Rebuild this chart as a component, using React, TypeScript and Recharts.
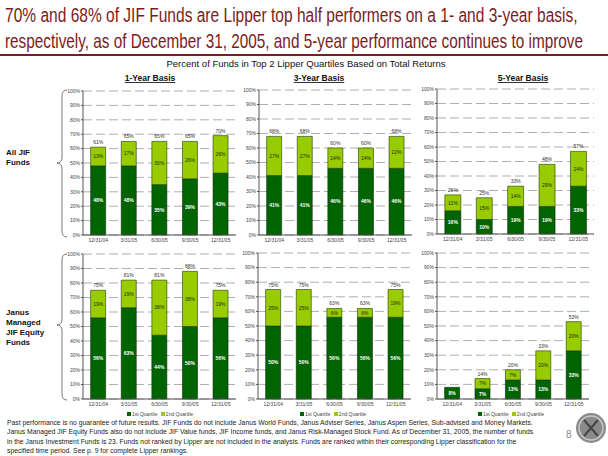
import { BarChart, Bar, XAxis, YAxis, CartesianGrid, LabelList } from 'recharts'

const quarters = ['12/31/04', '3/31/05', '6/30/05', '9/30/05', '12/31/05']
const yTicks = [0, 10, 20, 30, 40, 50, 60, 70, 80, 90, 100]

// All JIF Funds
const allOneFirst = [48, 48, 35, 39, 43]
const allOneSecond = [13, 17, 30, 26, 26]
const allOneTotal = [61, 65, 65, 65, 70]

const allThreeFirst = [41, 41, 46, 46, 46]
const allThreeSecond = [27, 27, 14, 14, 22]
const allThreeTotal = [68, 68, 60, 60, 68]

const allFiveFirst = [16, 10, 19, 19, 33]
const allFiveSecond = [11, 15, 14, 29, 24]
const allFiveTotal = [26, 25, 33, 48, 57]

// Janus Managed JIF Equity Funds
const janusOneFirst = [56, 63, 44, 50, 56]
const janusOneSecond = [19, 19, 38, 38, 19]
const janusOneTotal = [75, 81, 81, 88, 75]

const janusThreeFirst = [50, 50, 56, 56, 56]
const janusThreeSecond = [25, 25, 6, 6, 19]
const janusThreeTotal = [75, 75, 63, 63, 75]

const janusFiveFirst = [8, 7, 13, 13, 33]
const janusFiveSecond = [0, 7, 7, 20, 20]
const janusFiveTotal = [8, 14, 20, 33, 53]

const footerLines = [
  'Past performance is no guarantee of future results.  JIF Funds do not include Janus World Funds, Janus Adviser Series, Janus Aspen Series, Sub-advised and Money Markets.',
  'Janus Managed JIF Equity Funds also do not include JIF Value funds, JIF Income funds, and Janus Risk-Managed Stock Fund.  As of December 31, 2005, the number of funds',
  'in the Janus Investment Funds is 23. Funds not ranked by Lipper are not included in the analysis. Funds are ranked within their corresponding Lipper classification for the',
  'specified time period.  See p. 9 for complete Lipper rankings.',
]

const DARK = '#006400'
const LIGHT = '#99cc00'
const TITLE_RED = '#7a1c22'
const FONT = "'Liberation Sans', Arial, sans-serif"

const rows = (first: number[], second: number[], total: number[]) =>
  quarters.map((quarter, i) => ({ quarter, first: first[i], second: second[i], total: total[i] }))

const pct = (v: any) => (v ? `${v}%` : '')

const YW = 24
const MT = 6
const XH = 12
const MR = 2

interface MiniChartProps {
  data: { quarter: string; first: number; second: number; total: number }[]
  x0: number
  x1: number
  y0: number
  y1: number
}

function MiniChart({ data, x0, x1, y0, y1 }: MiniChartProps) {
  const width = YW + (x1 - x0) + MR
  const height = MT + (y1 - y0) + XH
  return (
    <div style={{ position: 'absolute', left: x0 - YW, top: y0 - MT }}>
      <BarChart
        width={width}
        height={height}
        data={data}
        margin={{ top: MT, right: MR, left: 0, bottom: 0 }}
        barCategoryGap="25%"
      >
        <CartesianGrid vertical={false} stroke="#9a9a9a" strokeDasharray="9 4" strokeWidth={0.8} />
        <XAxis
          dataKey="quarter"
          height={XH}
          interval={0}
          tick={{ fontSize: 5, fill: '#444', fontFamily: FONT }}
          tickLine={false}
          tickSize={2}
          tickMargin={1}
          axisLine={{ stroke: '#555' }}
        />
        <YAxis
          width={YW}
          domain={[0, 100]}
          ticks={yTicks}
          interval={0}
          tickFormatter={(v) => `${v}%`}
          tick={{ fontSize: 5, fill: '#444', fontFamily: FONT }}
          tickSize={2}
          tickMargin={1}
          axisLine={{ stroke: '#555' }}
          tickLine={{ stroke: '#555' }}
        />
        <Bar dataKey="first" stackId="q" fill={DARK} stroke="#0b2a0b" strokeWidth={0.6} isAnimationActive={false}>
          <LabelList dataKey="first" position="center" formatter={pct} fill="#ffffff" fontSize={5} fontWeight={700} fontFamily={FONT} />
        </Bar>
        <Bar dataKey="second" stackId="q" fill={LIGHT} stroke="#1f3a00" strokeWidth={0.6} isAnimationActive={false}>
          <LabelList dataKey="second" position="center" formatter={pct} fill="#1d2b00" fontSize={5} fontFamily={FONT} />
          <LabelList dataKey="total" position="top" offset={3} formatter={pct} fill="#333" fontSize={5} fontFamily={FONT} />
        </Bar>
      </BarChart>
    </div>
  )
}

function QuartileLegend({ cx }: { cx: number }) {
  return (
    <div
      style={{
        position: 'absolute',
        left: cx - 40,
        top: 411,
        width: 80,
        textAlign: 'center',
        fontSize: 5,
        lineHeight: '6px',
        fontFamily: FONT,
        color: '#444',
        whiteSpace: 'nowrap',
      }}
    >
      <span style={{ display: 'inline-block', width: 4, height: 4, background: DARK, marginRight: 1 }} />
      1st Quartile{' '}
      <span style={{ display: 'inline-block', width: 4, height: 4, background: LIGHT, marginRight: 1, marginLeft: 2 }} />
      2nd Quartile
    </div>
  )
}

export default function App() {
  return (
    <div style={{ position: 'absolute', left: 0, top: 0, width: 608, height: 456, background: '#fff', overflow: 'hidden' }}>
      <svg width={608} height={456} style={{ position: 'absolute', left: 0, top: 0 }} fontFamily={FONT}>
        <text transform="translate(5 22) scale(0.74 1)" fontSize={21} fill={TITLE_RED}>
          70% and 68% of JIF Funds are Lipper top half performers on a 1- and 3-year basis,
        </text>
        <text transform="translate(5 48) scale(0.73 1)" fontSize={21} fill={TITLE_RED}>
          respectively, as of December 31, 2005, and 5-year performance continues to improve
        </text>
        <line x1={0} y1={55} x2={608} y2={55} stroke={TITLE_RED} strokeWidth={2} />

        <text x={306} y={67} fontSize={9.5} textAnchor="middle" fill="#111">
          Percent of Funds in Top 2 Lipper Quartiles Based on Total Returns
        </text>
        <text x={150} y={81} fontSize={8.5} fontWeight={700} textAnchor="middle" fill="#111" textDecoration="underline">
          1-Year Basis
        </text>
        <text x={319} y={81} fontSize={8.5} fontWeight={700} textAnchor="middle" fill="#111" textDecoration="underline">
          3-Year Basis
        </text>
        <text x={523} y={81} fontSize={8.5} fontWeight={700} textAnchor="middle" fill="#111" textDecoration="underline">
          5-Year Basis
        </text>

        <text x={6} y={155} fontSize={8} fontWeight={700} fill="#111">All JIF</text>
        <text x={6} y={165} fontSize={8} fontWeight={700} fill="#111">Funds</text>
        <text x={6} y={315} fontSize={8} fontWeight={700} fill="#111">Janus</text>
        <text x={6} y={325} fontSize={8} fontWeight={700} fill="#111">Managed</text>
        <text x={6} y={335} fontSize={8} fontWeight={700} fill="#111">JIF Equity</text>
        <text x={6} y={345} fontSize={8} fontWeight={700} fill="#111">Funds</text>

        <path
          d="M67 90 Q62 90 62 96 L62 157 Q62 163 57 163 Q62 163 62 169 L62 231 Q62 237 67 237"
          fill="none"
          stroke="#777"
          strokeWidth={1}
        />
        <path
          d="M67 254 Q62 254 62 260 L62 319 Q62 325 57 325 Q62 325 62 331 L62 394 Q62 400 67 400"
          fill="none"
          stroke="#777"
          strokeWidth={1}
        />

        {footerLines.map((line, i) => (
          <text key={i} x={7} y={425 + i * 9.3} fontSize={6.8} fill="#222">
            {line}
          </text>
        ))}
        <text x={566} y={438} fontSize={10} fill="#888">8</text>
        <circle cx={591} cy={428} r={15} fill="#8a8a8a" />
        <circle cx={591} cy={428} r={12} fill="none" stroke="#c8c8c8" strokeWidth={1.5} />
        <path d="M584 420 L598 436 M598 420 L584 436" stroke="#444" strokeWidth={2} />
      </svg>

      <MiniChart data={rows(allOneFirst, allOneSecond, allOneTotal)} x0={83} x1={236} y0={91} y1={235} />
      <MiniChart data={rows(allThreeFirst, allThreeSecond, allThreeTotal)} x0={259} x1={412} y0={90} y1={235} />
      <MiniChart data={rows(allFiveFirst, allFiveSecond, allFiveTotal)} x0={437} x1={594} y0={89} y1={234} />
      <MiniChart data={rows(janusOneFirst, janusOneSecond, janusOneTotal)} x0={83} x1={236} y0={254} y1={399} />
      <MiniChart data={rows(janusThreeFirst, janusThreeSecond, janusThreeTotal)} x0={258} x1={411} y0={253} y1={399} />
      <MiniChart data={rows(janusFiveFirst, janusFiveSecond, janusFiveTotal)} x0={437} x1={589} y0={253} y1={399} />

      <QuartileLegend cx={160} />
      <QuartileLegend cx={333} />
      <QuartileLegend cx={511} />
    </div>
  )
}
